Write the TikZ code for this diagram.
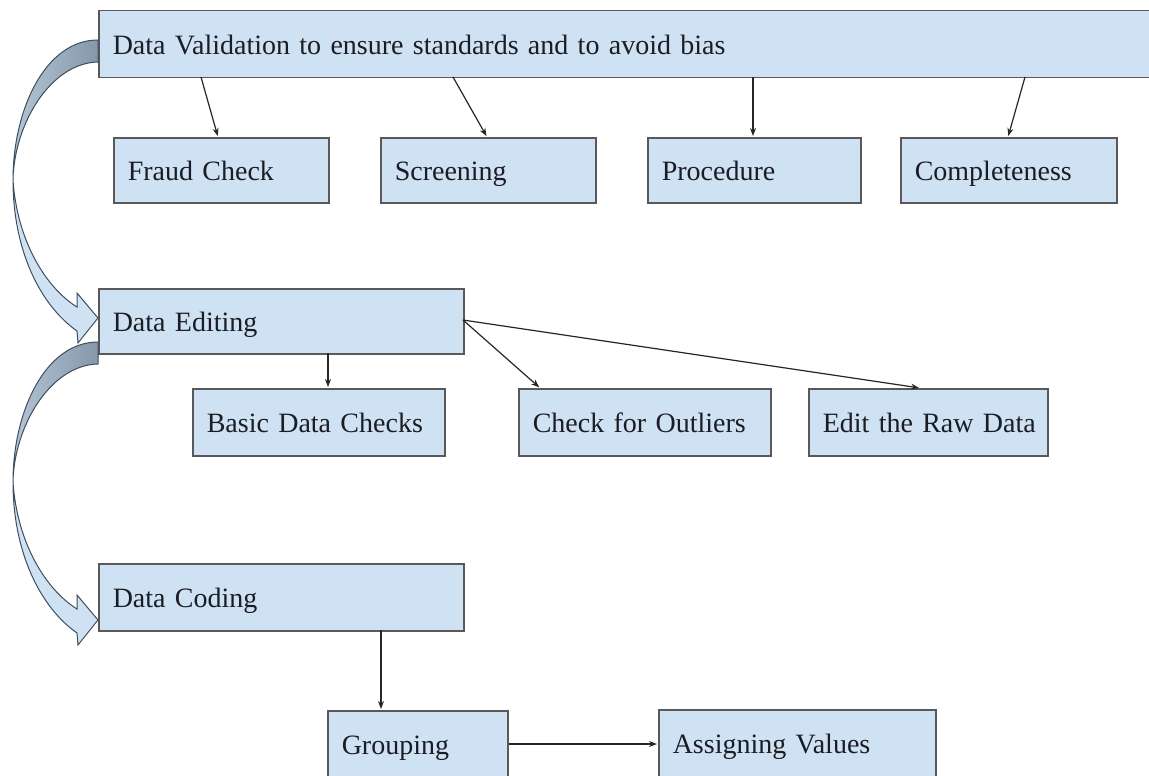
\documentclass[tikz,border=0pt]{standalone}
\usepackage{fontspec}
\setmainfont{Liberation Serif}
\usetikzlibrary{arrows.meta}
\definecolor{boxfill}{HTML}{CFE2F3}
\definecolor{boxline}{HTML}{595959}
\definecolor{inkcol}{HTML}{1C1C24}
\definecolor{backdark}{HTML}{8598AB}
\definecolor{backlight}{HTML}{B4C5D4}
\definecolor{bandline}{HTML}{3F4E5C}
\tikzset{
  box/.style={draw=boxline, fill=boxfill, line width=1.5pt, rectangle,
    inner xsep=14pt, inner ysep=0pt, align=left, anchor=north west,
    text=inkcol, text height=20pt, text depth=0pt,
    font=\fontsize{28}{32}\selectfont},
  link/.style={draw=black!85, line width=1.2pt,
    -{Stealth[length=8pt,width=6pt]}, shorten >=1pt},
  bandback/.style={draw=bandline, line width=1pt, left color=backlight, right color=backdark},
  bandfront/.style={draw=bandline, line width=1pt, fill=boxfill}
}
% curved block arrow leaving the left side of one stage and entering the next
\newcommand{\stagearrow}[1]{%
  \begin{scope}[yshift=#1]
    \path[bandfront] (13,180) .. controls (13,250) and (40,305) .. (77,331)
      -- (78,343) -- (98,318) -- (77,293) -- (77,307)
      .. controls (45,287) and (17,240) .. (13,180) -- cycle;
    \path[bandback] (98,40) .. controls (45,40) and (13,110) .. (13,180)
      .. controls (14,125) and (50,63) .. (98,62) -- cycle;
  \end{scope}}
\begin{document}
\begin{tikzpicture}[x=1pt, y=-1pt]
\useasboundingbox (0,0) rectangle (1149,776);

% stage 1
\node[box, text width=1030pt, minimum height=67pt] (val) at (98,10)
  {\mbox{Data Validation to ensure standards and to avoid bias}};
\node[box, text width=187pt, minimum height=65pt] (fraud) at (113,137) {\mbox{Fraud Check}};
\node[box, text width=187pt, minimum height=65pt] (screen) at (380,137) {\mbox{Screening}};
\node[box, text width=185pt, minimum height=65pt] (proc) at (647,137) {\mbox{Procedure}};
\node[box, text width=188pt, minimum height=65pt] (compl) at (900,137) {\mbox{Completeness}};

\coordinate (v1) at (201,77);  \coordinate (f1) at (218,137);
\coordinate (v2) at (453,77);  \coordinate (s1) at (487,137);
\coordinate (v3) at (753,77);  \coordinate (p1) at (753,137);
\coordinate (v4) at (1025,77); \coordinate (c1) at (1008,137);
\draw[link] (v1) -- (f1);
\draw[link] (v2) -- (s1);
\draw[link] (v3) -- (p1);
\draw[link] (v4) -- (c1);

% stage 2
\node[box, text width=337pt, minimum height=65pt] (edit) at (98,288) {\mbox{Data Editing}};
\node[box, text width=224pt, minimum height=67pt] (basic) at (192,388) {\mbox{Basic Data Checks}};
\node[box, text width=224pt, minimum height=67pt] (outl) at (518,388) {\mbox{Check for Outliers}};
\node[box, text width=211pt, minimum height=67pt] (raw) at (808,388) {\mbox{Edit the Raw Data}};

\coordinate (e0) at (463,320);
\coordinate (e1) at (328,353);  \coordinate (b1) at (328,388);
\coordinate (o1) at (540,388);
\coordinate (r1) at (920,388);
\draw[link] (e1) -- (b1);
\draw[link] (e0) -- (o1);
\draw[link] (e0) -- (r1);

% stage 3
\node[box, text width=337pt, minimum height=67pt] (coding) at (98,563) {\mbox{Data Coding}};
\node[box, text width=152pt, minimum height=68pt] (group) at (327,710) {\mbox{Grouping}};
\node[box, text width=249pt, minimum height=68pt] (assign) at (658,709) {\mbox{Assigning Values}};

\coordinate (d1) at (381,630); \coordinate (g1) at (381,710);
\draw[link] (d1) -- (g1);
\draw[link] (group.east |- 0,744) -- (assign.west |- 0,744);

% curved block arrows between stages
\stagearrow{0pt}
\stagearrow{-302pt}
\end{tikzpicture}
\end{document}
